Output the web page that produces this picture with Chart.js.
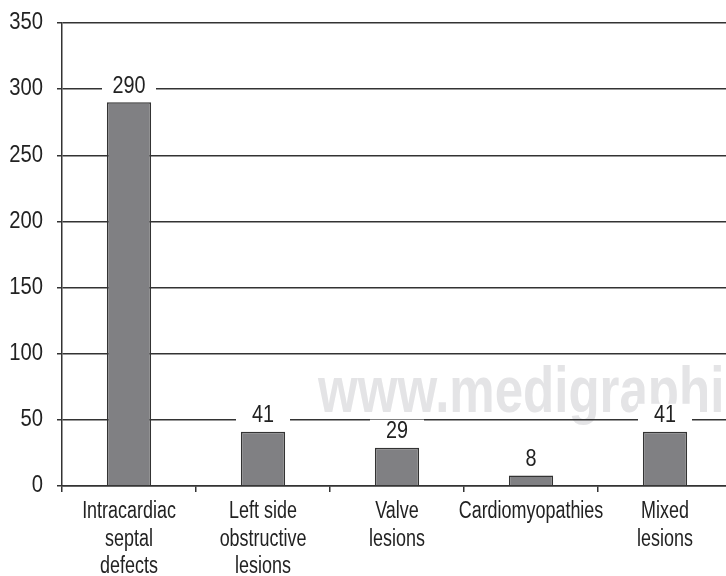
<!DOCTYPE html>
<html>
<head>
<meta charset="utf-8">
<script src="https://cdn.jsdelivr.net/npm/chart.js@4"></script>
<style>
html,body{margin:0;padding:0;background:#fff;overflow:hidden;width:726px;height:576px;}
canvas{display:block;}
</style>
</head>
<body>
<canvas id="c" width="734" height="576"></canvas>
<script>
const categories = [
  ['Intracardiac','septal','defects'],
  ['Left side','obstructive','lesions'],
  ['Valve','lesions'],
  ['Cardiomyopathies'],
  ['Mixed','lesions']
];
const cases = [290, 41, 29, 8, 41];
const yTicks = [0, 50, 100, 150, 200, 250, 300, 350];
const watermarkText = 'www.medigraphi';

const FONT = '"Liberation Sans", Arial, sans-serif';
const ink = '#222222';

// draw condensed text (real text, horizontally squeezed)
function condText(ctx, txt, x, y, align, sq) {
  ctx.save();
  ctx.translate(x, y);
  ctx.scale(sq, 1);
  ctx.textAlign = align;
  ctx.fillText(txt, 0, 0);
  ctx.restore();
}

const watermark = {
  id: 'watermark',
  beforeDraw(chart) {
    const ctx = chart.ctx;
    ctx.save();
    ctx.font = 'bold 65px ' + FONT;
    ctx.fillStyle = '#e4e4e6';
    ctx.textBaseline = 'alphabetic';
    condText(ctx, watermarkText, 318, 412, 'left', 0.785);
    ctx.restore();
  }
};

const valueLabels = {
  id: 'valueLabels',
  afterDatasetsDraw(chart) {
    const ctx = chart.ctx;
    const meta = chart.getDatasetMeta(0);
    ctx.save();
    ctx.font = '23px ' + FONT;
    ctx.textBaseline = 'middle';
    meta.data.forEach((bar, i) => {
      const cy = bar.y - 16;
      ctx.fillStyle = '#ffffff';
      ctx.fillRect(bar.x - 27, cy - 12, 54, 24);
      ctx.fillStyle = ink;
      condText(ctx, String(cases[i]), bar.x, cy, 'center', 0.86);
    });
    ctx.restore();
  }
};

const axisLabels = {
  id: 'axisLabels',
  afterDraw(chart) {
    const ctx = chart.ctx;
    const xs = chart.scales.x, ys = chart.scales.y;
    ctx.save();
    ctx.font = '23px ' + FONT;
    ctx.fillStyle = ink;
    ctx.textBaseline = 'middle';
    yTicks.forEach(v => {
      condText(ctx, String(v), ys.right - 19, ys.getPixelForValue(v), 'right', 0.88);
    });
    categories.forEach((lines, i) => {
      const x = xs.getPixelForValue(i);
      lines.forEach((ln, k) => {
        condText(ctx, ln, x, xs.top + 26 + k * 27.5, 'center', 0.78);
      });
    });
    ctx.restore();
  }
};

new Chart(document.getElementById('c'), {
  type: 'bar',
  data: {
    labels: categories,
    datasets: [{
      data: cases,
      backgroundColor: '#808083',
      borderColor: '#333333',
      borderWidth: 1.5,
      borderSkipped: 'bottom',
      categoryPercentage: 1,
      barPercentage: 0.33
    }]
  },
  options: {
    responsive: false,
    animation: false,
    layout: { padding: { top: 23, left: 0, right: 2, bottom: 0 } },
    plugins: { legend: { display: false }, tooltip: { enabled: false } },
    scales: {
      x: {
        afterFit(s) { s.height = 90; },
        grid: { offset: true, drawOnChartArea: false, drawTicks: true, tickLength: 6, color: '#333', lineWidth: 1.5 },
        border: { color: '#333', width: 1.5 },
        ticks: { display: false }
      },
      y: {
        min: 0, max: 350,
        afterFit(s) { s.width = 62; },
        afterBuildTicks(s) { s.ticks = yTicks.map(v => ({ value: v })); },
        grid: { color: '#333', lineWidth: 1.5, tickLength: 5 },
        border: { color: '#333', width: 1.5 },
        ticks: { display: false }
      }
    }
  },
  plugins: [watermark, valueLabels, axisLabels]
});
</script>
</body>
</html>
